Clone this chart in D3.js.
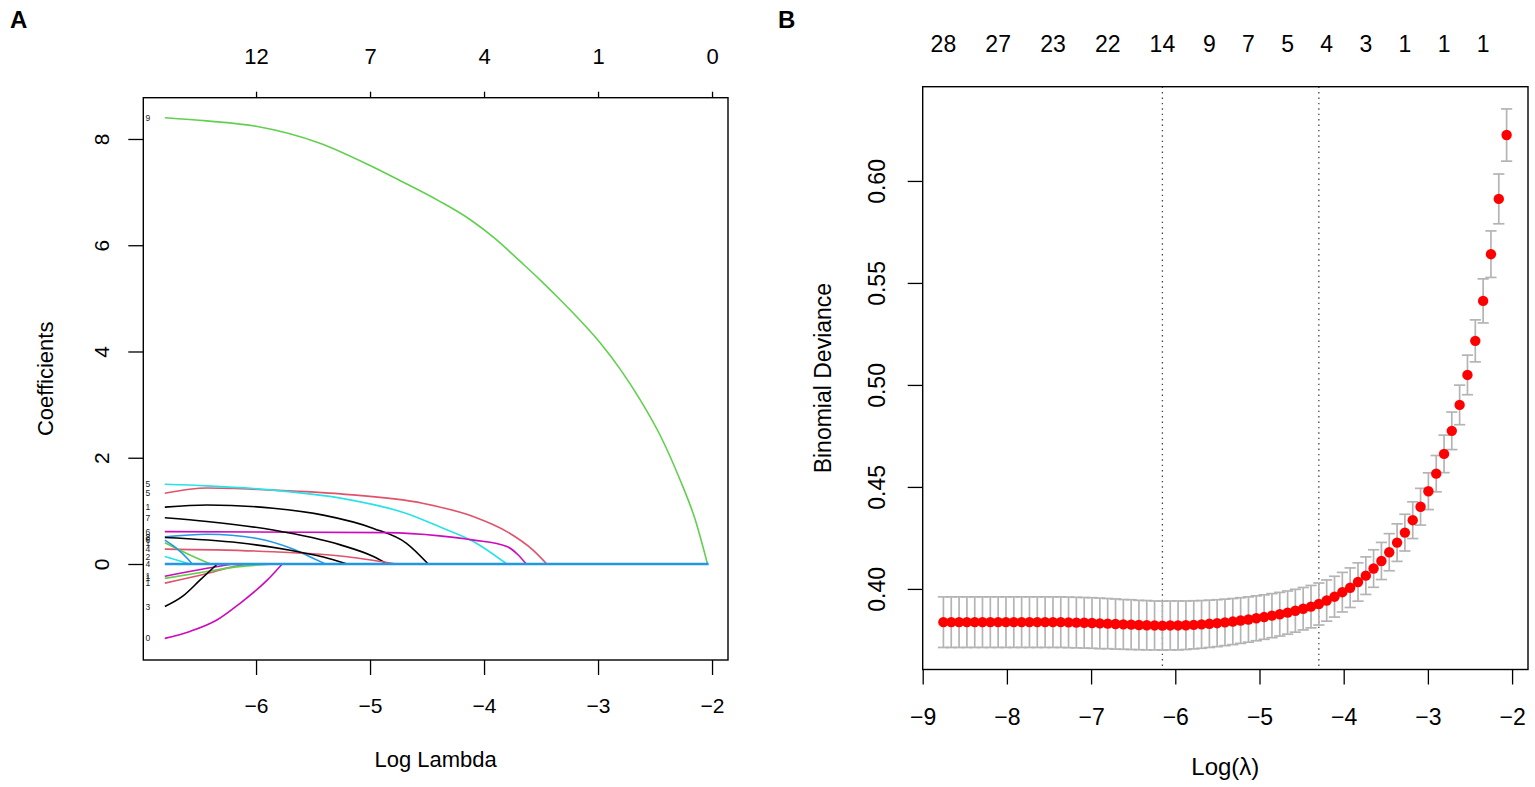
<!DOCTYPE html>
<html>
<head>
<meta charset="utf-8">
<script src="https://cdn.jsdelivr.net/npm/d3@7"></script>
<style>
body { margin: 0; background: #fff; }
svg { display: block; font-family: "Liberation Sans", Arial, Helvetica, sans-serif; }
</style>
</head>
<body>
<div id="wrapper"></div>
<script>
// ---------- panel A : coefficient paths ----------
const coefXTicks = [-6, -5, -4, -3, -2];
const coefTopLabels = ["12", "7", "4", "1", "0"];
const coefYTicks = [0, 2, 4, 6, 8];

// each path: [log lambda, coefficient]
const pathGreen9 = [[-6.80,8.40],[-6.43,8.34],[-6.00,8.24],[-5.44,7.92],[-5.00,7.50],[-4.74,7.22],[-4.40,6.84],[-4.12,6.48],[-3.90,6.12],[-3.68,5.69],[-3.50,5.33],[-3.33,4.97],[-3.15,4.57],[-2.98,4.16],[-2.80,3.65],[-2.63,3.09],[-2.45,2.40],[-2.28,1.58],[-2.15,0.85],[-2.04,0.00]];
const pathCyanTop = [[-6.80,1.50],[-6.43,1.47],[-5.85,1.39],[-5.26,1.24],[-4.68,0.95],[-4.39,0.70],[-4.09,0.42],[-3.80,0.00]];
const pathRedTop = [[-6.80,1.33],[-6.43,1.43],[-5.85,1.39],[-5.26,1.32],[-4.53,1.14],[-4.09,0.89],[-3.80,0.61],[-3.57,0.26],[-3.45,0.00]];
const pathBlack1 = [[-6.80,1.07],[-6.43,1.11],[-5.85,1.05],[-5.41,0.92],[-4.97,0.67],[-4.68,0.39],[-4.49,0.00]];
const pathBlack2 = [[-6.80,0.87],[-6.43,0.80],[-5.85,0.64],[-5.26,0.36],[-4.97,0.14],[-4.85,0.00]];
const pathMagentaFlat = [[-6.80,0.61],[-4.85,0.59],[-4.39,0.53],[-4.09,0.45],[-3.80,0.33],[-3.70,0.17],[-3.63,0.00]];
const pathBlue1 = [[-6.80,0.51],[-6.43,0.56],[-5.99,0.48],[-5.70,0.30],[-5.50,0.11],[-5.39,0.00]];
const pathBlack3 = [[-6.80,0.50],[-6.15,0.40],[-5.70,0.26],[-5.41,0.13],[-5.20,0.00]];
const pathRed2 = [[-6.80,0.28],[-5.85,0.23],[-5.26,0.15],[-4.77,0.00]];
const pathGreenSmall = [[-6.80,0.40],[-6.58,0.17],[-6.40,0.00]];
const pathCyanSmall = [[-6.80,0.14],[-6.58,0.00]];
const pathBlue2 = [[-6.80,0.45],[-6.70,0.30],[-6.60,0.10],[-6.56,0.00]];
const pathMagentaNeg = [[-6.80,-0.23],[-6.43,-0.08],[-6.20,0.00]];
const pathGreenNeg = [[-6.80,-0.27],[-6.43,-0.14],[-6.15,-0.05],[-5.85,0.00]];
const pathRedNeg = [[-6.80,-0.36],[-6.43,-0.18],[-6.20,-0.05],[-6.05,0.00]];
const pathBlackNeg = [[-6.80,-0.80],[-6.64,-0.60],[-6.49,-0.30],[-6.34,0.00]];
const pathMagentaBig = [[-6.80,-1.40],[-6.58,-1.27],[-6.34,-1.05],[-6.14,-0.74],[-5.90,-0.30],[-5.77,0.00]];
const pathZero = [[-6.80,0.00],[-2.03,0.00]];

const coefPaths = [pathBlack1, pathRedTop, pathGreen9, pathBlue1, pathCyanTop, pathMagentaFlat,
  pathBlack2, pathRed2, pathGreenSmall, pathBlue2, pathCyanSmall, pathMagentaNeg,
  pathBlack3, pathRedNeg, pathGreenNeg, pathBlackNeg, pathMagentaBig, pathZero];
const coefLabels = ["1","5","9","8","5","6","7","4","1","6","2","1","2","1","1","3","0","4"];
const coefColors = ["#000000","#DF536B","#61D04F","#2297E6","#28E2E5","#CD0BBC",
  "#000000","#DF536B","#61D04F","#2297E6","#28E2E5","#CD0BBC",
  "#000000","#DF536B","#61D04F","#000000","#CD0BBC","#2297E6"];

// ---------- panel B : cross-validation ----------
const logLambda = [-8.754,-8.661,-8.568,-8.475,-8.382,-8.290,-8.197,-8.104,-8.011,-7.918,
  -7.825,-7.732,-7.639,-7.546,-7.453,-7.360,-7.268,-7.175,-7.082,-6.989,
  -6.896,-6.803,-6.710,-6.617,-6.524,-6.432,-6.339,-6.246,-6.153,-6.060,
  -5.967,-5.874,-5.781,-5.688,-5.595,-5.503,-5.410,-5.317,-5.224,-5.131,
  -5.038,-4.945,-4.852,-4.759,-4.666,-4.574,-4.481,-4.388,-4.295,-4.202,
  -4.109,-4.016,-3.923,-3.830,-3.737,-3.645,-3.552,-3.459,-3.366,-3.273,
  -3.180,-3.087,-2.994,-2.901,-2.808,-2.716,-2.623,-2.530,-2.437,-2.344,
  -2.251,-2.158,-2.065];
const cvm = [0.3837,0.3837,0.3837,0.3837,0.3837,0.3837,0.3837,0.3837,0.3837,0.3837,
  0.3837,0.3837,0.3837,0.3837,0.3837,0.3837,0.3836,0.3835,0.3834,0.3833,
  0.3831,0.3830,0.3828,0.3826,0.3825,0.3823,0.3822,0.3821,0.3820,0.3821,
  0.3821,0.3822,0.3824,0.3826,0.3829,0.3832,0.3836,0.3840,0.3845,0.3850,
  0.3856,0.3862,0.3869,0.3876,0.3884,0.3893,0.3903,0.3913,0.3926,0.3943,
  0.3962,0.3984,0.4006,0.4034,0.4065,0.4100,0.4137,0.4180,0.4227,0.4276,
  0.4337,0.4403,0.4479,0.4565,0.4662,0.4775,0.4902,0.5049,0.5216,0.5412,
  0.5641,0.5912,0.6225];
const cvsd = [0.0124,0.0124,0.0124,0.0124,0.0124,0.0124,0.0124,0.0124,0.0124,0.0124,
  0.0124,0.0124,0.0124,0.0124,0.0124,0.0124,0.0124,0.0124,0.0124,0.0124,
  0.0124,0.0123,0.0123,0.0122,0.0122,0.0121,0.0121,0.0120,0.0120,0.0120,
  0.0120,0.0119,0.0118,0.0117,0.0116,0.0115,0.0114,0.0113,0.0112,0.0111,
  0.0110,0.0109,0.0108,0.0107,0.0106,0.0105,0.0104,0.0104,0.0103,0.0101,
  0.0100,0.0097,0.0097,0.0094,0.0092,0.0092,0.0091,0.0091,0.0092,0.0090,
  0.0090,0.0090,0.0090,0.0089,0.0092,0.0092,0.0097,0.0097,0.0103,0.0108,
  0.0114,0.0122,0.0128];
const nzAt = [-8.754,-8.104,-7.453,-6.803,-6.153,-5.595,-5.131,-4.666,-4.202,-3.737,-3.273,-2.808,-2.344];
const nzLabels = ["28","27","23","22","14","9","7","5","4","3","1","1","1"];
const devXTicks = [-9, -8, -7, -6, -5, -4, -3, -2];
const devYTicks = [0.40, 0.45, 0.50, 0.55, 0.60];
const lambdaMin = -6.153;
const lambda1se = -4.295;

const minusFmt = d => (d < 0 ? "\u2212" + Math.abs(d) : String(d));

const svg = d3.select("#wrapper").append("svg")
  .attr("width", 1535)
  .attr("height", 787);
svg.append("rect").attr("width", 1535).attr("height", 787).attr("fill", "#fff");

// ================= panel A =================
const boxA = { left: 143.3, right: 728, top: 97.7, bottom: 660 };
const xA = d3.scaleLinear().domain([-6.989, -1.86]).range([boxA.left, boxA.right]);
const yA = d3.scaleLinear().domain([-1.807, 8.777]).range([boxA.bottom, boxA.top]);

svg.append("defs").append("clipPath").attr("id", "clipA")
  .append("rect")
  .attr("x", boxA.left).attr("y", boxA.top)
  .attr("width", boxA.right - boxA.left).attr("height", boxA.bottom - boxA.top);

const lineA = d3.line().x(d => xA(d[0])).y(d => yA(d[1])).curve(d3.curveMonotoneX);

const pathsA = svg.append("g").attr("clip-path", "url(#clipA)");
coefPaths.forEach((p, i) => {
  pathsA.append("path")
    .attr("d", lineA(p))
    .attr("fill", "none")
    .attr("stroke", coefColors[i])
    .attr("stroke-width", p === pathZero ? 2.6 : 1.6);
});

// variable index labels at the left end of each path
coefPaths.forEach((p, i) => {
  svg.append("text")
    .attr("x", xA(p[0][0]) - 17)
    .attr("y", yA(p[0][1]) + 3)
    .attr("text-anchor", "middle")
    .attr("font-size", 8.5)
    .attr("fill", "#222")
    .text(coefLabels[i]);
});

const xAxisA = svg.append("g")
  .attr("transform", `translate(0,${boxA.bottom})`)
  .call(d3.axisBottom(xA).tickValues(coefXTicks).tickSize(15).tickPadding(23).tickFormat(minusFmt));
xAxisA.select(".domain").remove();
xAxisA.selectAll("text").attr("font-size", 21).attr("fill", "#000");
xAxisA.selectAll("line").attr("stroke", "#000").attr("stroke-width", 1.3);

const topAxisA = svg.append("g")
  .attr("transform", `translate(0,${boxA.top})`)
  .call(d3.axisTop(xA).tickValues(coefXTicks).tickSize(6).tickPadding(27.7).tickFormat((d, i) => coefTopLabels[i]));
topAxisA.select(".domain").remove();
topAxisA.selectAll("text").attr("font-size", 22).attr("fill", "#000");
topAxisA.selectAll("line").attr("stroke", "#000").attr("stroke-width", 1.3);

const yAxisA = svg.append("g")
  .attr("transform", `translate(${boxA.left},0)`)
  .call(d3.axisLeft(yA).tickValues(coefYTicks).tickSize(15).tickFormat(minusFmt));
yAxisA.select(".domain").remove();
yAxisA.selectAll("line").attr("stroke", "#000").attr("stroke-width", 1.3);
yAxisA.selectAll("text")
  .attr("transform", "rotate(-90)")
  .attr("x", 0).attr("y", -34.5).attr("dy", 0)
  .attr("text-anchor", "middle")
  .attr("font-size", 21).attr("fill", "#000");

svg.append("rect")
  .attr("x", boxA.left).attr("y", boxA.top)
  .attr("width", boxA.right - boxA.left).attr("height", boxA.bottom - boxA.top)
  .attr("fill", "none").attr("stroke", "#000").attr("stroke-width", 1.4);

svg.append("text")
  .attr("x", (boxA.left + boxA.right) / 2).attr("y", 767)
  .attr("text-anchor", "middle").attr("font-size", 22)
  .text("Log Lambda");
svg.append("text")
  .attr("transform", `translate(53,${(boxA.top + boxA.bottom) / 2}) rotate(-90)`)
  .attr("text-anchor", "middle").attr("font-size", 22)
  .text("Coefficients");
svg.append("text")
  .attr("x", 10).attr("y", 28)
  .attr("font-size", 24).attr("font-weight", "bold")
  .text("A");

// ================= panel B =================
const boxB = { left: 922.7, right: 1528, top: 86.7, bottom: 669.5 };
const xB = d3.scaleLinear().domain([-9.0, -1.811]).range([boxB.left, boxB.right]);
const yB = d3.scaleLinear().domain([0.3605, 0.6462]).range([boxB.bottom, boxB.top]);

const cvData = logLambda.map((l, i) => ({ l: l, m: cvm[i], up: cvm[i] + cvsd[i], lo: cvm[i] - cvsd[i] }));

// vertical dotted lines at lambda.min and lambda.1se
[lambdaMin, lambda1se].forEach(v => {
  svg.append("line")
    .attr("x1", xB(v)).attr("x2", xB(v))
    .attr("y1", boxB.top).attr("y2", boxB.bottom)
    .attr("stroke", "#444").attr("stroke-width", 1.3)
    .attr("stroke-dasharray", "1.4,4");
});

const bars = svg.append("g").attr("stroke", "#b4b4b4").attr("stroke-width", 1.7);
bars.selectAll("line.v").data(cvData).join("line").attr("class", "v")
  .attr("x1", d => xB(d.l)).attr("x2", d => xB(d.l))
  .attr("y1", d => yB(d.up)).attr("y2", d => yB(d.lo));
bars.selectAll("line.u").data(cvData).join("line").attr("class", "u")
  .attr("x1", d => xB(d.l) - 5.6).attr("x2", d => xB(d.l) + 5.6)
  .attr("y1", d => yB(d.up)).attr("y2", d => yB(d.up));
bars.selectAll("line.d").data(cvData).join("line").attr("class", "d")
  .attr("x1", d => xB(d.l) - 5.6).attr("x2", d => xB(d.l) + 5.6)
  .attr("y1", d => yB(d.lo)).attr("y2", d => yB(d.lo));

svg.append("g").selectAll("circle").data(cvData).join("circle")
  .attr("cx", d => xB(d.l)).attr("cy", d => yB(d.m))
  .attr("r", 5.2).attr("fill", "#ff0000");

const xAxisB = svg.append("g")
  .attr("transform", `translate(0,${boxB.bottom})`)
  .call(d3.axisBottom(xB).tickValues(devXTicks).tickSize(15).tickPadding(24).tickFormat(minusFmt));
xAxisB.select(".domain").remove();
xAxisB.selectAll("text").attr("font-size", 23).attr("fill", "#000");
xAxisB.selectAll("line").attr("stroke", "#000").attr("stroke-width", 1.3);

const yAxisB = svg.append("g")
  .attr("transform", `translate(${boxB.left},0)`)
  .call(d3.axisLeft(yB).tickValues(devYTicks).tickSize(15).tickFormat(d3.format(".2f")));
yAxisB.select(".domain").remove();
yAxisB.selectAll("line").attr("stroke", "#000").attr("stroke-width", 1.3);
yAxisB.selectAll("text")
  .attr("transform", "rotate(-90)")
  .attr("x", 0).attr("y", -37.5).attr("dy", 0)
  .attr("text-anchor", "middle")
  .attr("font-size", 23).attr("fill", "#000");

svg.append("g").selectAll("text").data(nzAt).join("text")
  .attr("x", d => xB(d)).attr("y", 52)
  .attr("text-anchor", "middle").attr("font-size", 23)
  .text((d, i) => nzLabels[i]);

svg.append("rect")
  .attr("x", boxB.left).attr("y", boxB.top)
  .attr("width", boxB.right - boxB.left).attr("height", boxB.bottom - boxB.top)
  .attr("fill", "none").attr("stroke", "#000").attr("stroke-width", 1.4);

svg.append("text")
  .attr("x", (boxB.left + boxB.right) / 2).attr("y", 775)
  .attr("text-anchor", "middle").attr("font-size", 24)
  .text("Log(\u03bb)");
svg.append("text")
  .attr("transform", `translate(831,${(boxB.top + boxB.bottom) / 2}) rotate(-90)`)
  .attr("text-anchor", "middle").attr("font-size", 23)
  .text("Binomial Deviance");
svg.append("text")
  .attr("x", 778).attr("y", 28)
  .attr("font-size", 24).attr("font-weight", "bold")
  .text("B");
</script>
</body>
</html>
